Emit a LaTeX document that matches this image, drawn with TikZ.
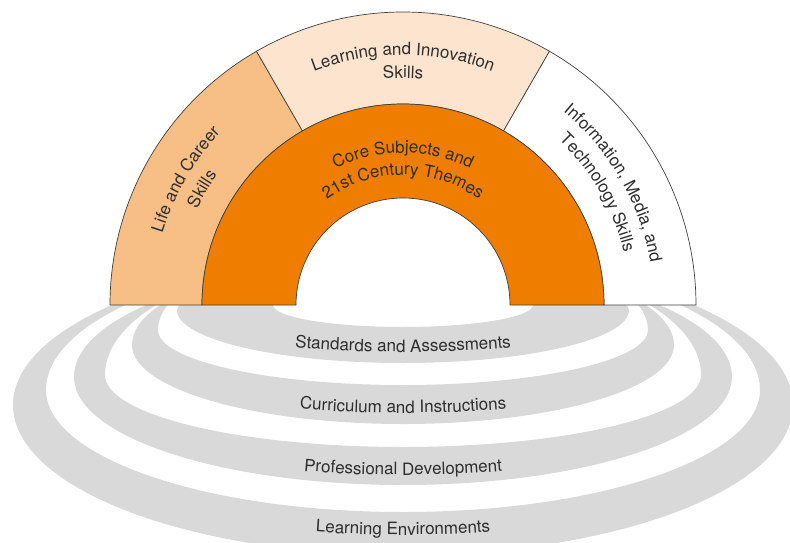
\documentclass[tikz,border=0pt]{standalone}
\usepackage{fontspec}
\setmainfont{TeX Gyre Heros}
\usetikzlibrary{decorations.text}
\definecolor{lifeskin}{HTML}{F7BF86}
\definecolor{learnskin}{HTML}{FCE4CE}
\definecolor{coreorange}{HTML}{EE7D00}
\definecolor{ringgray}{HTML}{D9D9D9}
\definecolor{inkgray}{HTML}{2E2E2E}
\newcommand{\lbl}{\fontsize{17}{20}\selectfont\color{inkgray}}
\begin{document}
\begin{tikzpicture}[x=1pt, y=1pt]
			\tikzstyle{segment} = [draw=black!75, line width=0.7pt]
			\tikzstyle{band} = [fill=ringgray, even odd rule]
			\tikzset{arctext/.style={decorate, decoration={text along path, text align=center, text={|\lbl|#1}}}}

			\useasboundingbox (-403,-237) rectangle (387,305);

			\begin{scope}
			\clip (-403,-237) rectangle (387,0);
			\fill[band]
			(390,-100) arc[start angle=0, end angle=180, x radius=390pt, y radius=150pt] arc[start angle=180, end angle=360, x radius=390pt, y radius=150pt] -- cycle
			(357,-85) arc[start angle=0, end angle=180, x radius=357pt, y radius=135pt] arc[start angle=180, end angle=360, x radius=357pt, y radius=122pt] -- cycle;
			\fill[band]
			(329,-72) arc[start angle=0, end angle=180, x radius=329pt, y radius=115pt] arc[start angle=180, end angle=360, x radius=329pt, y radius=108pt] -- cycle
			(298,-70) arc[start angle=0, end angle=180, x radius=298pt, y radius=125pt] arc[start angle=180, end angle=360, x radius=298pt, y radius=72pt] -- cycle;
			\fill[band]
			(271,-40) arc[start angle=0, end angle=180, x radius=271pt, y radius=90pt] arc[start angle=180, end angle=360, x radius=271pt, y radius=79pt] -- cycle
			(245,-25) arc[start angle=0, end angle=180, x radius=245pt, y radius=90pt] arc[start angle=180, end angle=360, x radius=245pt, y radius=55pt] -- cycle;
			\fill[band]
			(226,-5) arc[start angle=0, end angle=180, x radius=226pt, y radius=30pt] arc[start angle=180, end angle=360, x radius=226pt, y radius=53pt] -- cycle
			(130,0) arc[start angle=0, end angle=360, x radius=130pt, y radius=22pt] -- cycle;
			\end{scope}

			\path[arctext={Standards and Assessments}] (0,23) ++(200:300pt and 70pt) arc[start angle=200, end angle=340, x radius=300pt, y radius=70pt];
			\path[arctext={Curriculum and Instructions}] (0,-38) ++(200:300pt and 70pt) arc[start angle=200, end angle=340, x radius=300pt, y radius=70pt];
			\path[arctext={Professional Development}] (0,-100) ++(200:300pt and 70pt) arc[start angle=200, end angle=340, x radius=300pt, y radius=70pt];
			\path[arctext={Learning Environments}] (0,-160) ++(200:300pt and 70pt) arc[start angle=200, end angle=340, x radius=300pt, y radius=70pt];

			\filldraw[segment, fill=lifeskin] (180:201pt) -- (180:293pt) arc[start angle=180, end angle=120, radius=293pt] -- (120:201pt) arc[start angle=120, end angle=180, radius=201pt] -- cycle;
			\filldraw[segment, fill=learnskin] (120:201pt) -- (120:293pt) arc[start angle=120, end angle=60, radius=293pt] -- (60:201pt) arc[start angle=60, end angle=120, radius=201pt] -- cycle;
			\filldraw[segment, fill=white] (60:201pt) -- (60:293pt) arc[start angle=60, end angle=0, radius=293pt] -- (0:201pt) arc[start angle=0, end angle=60, radius=201pt] -- cycle;
			\filldraw[segment, fill=coreorange] (0:107pt) -- (0:201pt) arc[start angle=0, end angle=180, radius=201pt] -- (180:107pt) arc[start angle=180, end angle=0, radius=107pt] -- cycle;

			\path[arctext={Core Subjects and}] (160:152pt) arc[start angle=160, end angle=20, radius=152pt];
			\path[arctext={21st Century Themes}] (170:130pt) arc[start angle=170, end angle=10, radius=130pt];
			\path[arctext={Learning and Innovation}] (135:250pt) arc[start angle=135, end angle=45, radius=250pt];
			\path[arctext={Skills}] (110:227pt) arc[start angle=110, end angle=70, radius=227pt];
			\path[arctext={Life and Career}] (190:251pt) arc[start angle=190, end angle=110, radius=251pt];
			\path[arctext={Skills}] (175:227pt) arc[start angle=175, end angle=125, radius=227pt];
			\path[arctext={Information, Media, and}] (75:251pt) arc[start angle=75, end angle=-15, radius=251pt];
			\path[arctext={Technology Skills}] (60:227pt) arc[start angle=60, end angle=0, radius=227pt];
\end{tikzpicture}
\end{document}
